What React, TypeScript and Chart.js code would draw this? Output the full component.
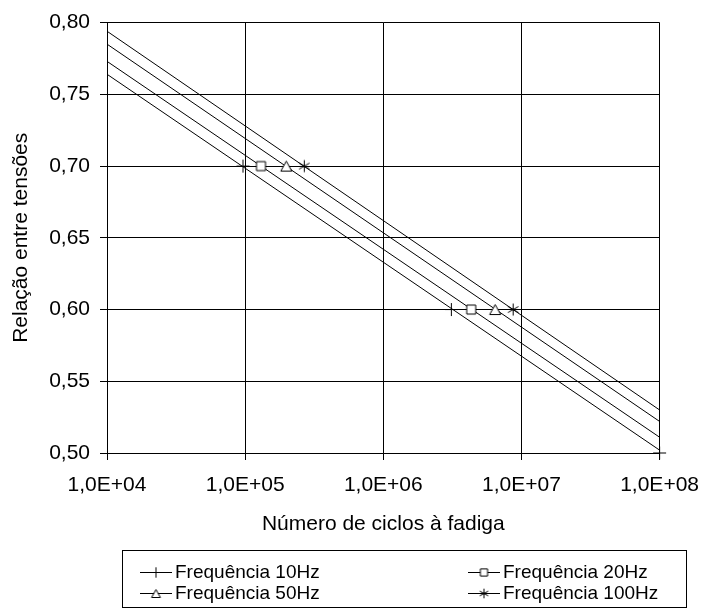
import React, { useEffect, useRef } from 'react';
import { Chart, registerables } from 'chart.js';

Chart.register(...registerables);

const seriesNames = ['Frequência 10Hz', 'Frequência 20Hz', 'Frequência 50Hz', 'Frequência 100Hz'];
const markerKinds = ['cross', 'square', 'triangle', 'asterisk'];

const cycles10Hz = [96400, 3110000, 100000000];
const ratio10Hz = [0.7, 0.6, 0.5];
const cycles20Hz = [130200, 4330000];
const ratio20Hz = [0.7, 0.6];
const cycles50Hz = [198600, 6450000];
const ratio50Hz = [0.7, 0.6];
const cycles100Hz = [268000, 8710000];
const ratio100Hz = [0.7, 0.6];

const trendCycles = [10000, 100000000];
const trendStart = [0.764, 0.773, 0.785, 0.794];
const trendEnd = [0.502, 0.511, 0.522, 0.53];

const xTickValues = [10000, 100000, 1000000, 10000000, 100000000];
const xTickLabels = ['1,0E+04', '1,0E+05', '1,0E+06', '1,0E+07', '1,0E+08'];
const yTickValues = [0.5, 0.55, 0.6, 0.65, 0.7, 0.75, 0.8];
const yTickLabels = ['0,50', '0,55', '0,60', '0,65', '0,70', '0,75', '0,80'];

const FONT = "'Liberation Sans', Arial, sans-serif";

function makeMarker(kind: string, scale = 1): HTMLCanvasElement {
  const size = 15;
  const c = document.createElement('canvas');
  c.width = size;
  c.height = size;
  const ctx = c.getContext('2d')!;
  const m = size / 2;
  ctx.strokeStyle = '#000';
  ctx.fillStyle = '#fff';
  ctx.lineWidth = 1;
  ctx.beginPath();
  if (kind === 'cross') {
    const r = 6.5 * scale;
    ctx.moveTo(m - r, m);
    ctx.lineTo(m + r, m);
    ctx.moveTo(m, m - r);
    ctx.lineTo(m, m + r);
    ctx.stroke();
  } else if (kind === 'square') {
    const h = 4.5 * scale;
    ctx.rect(m - h, m - h, 2 * h, 2 * h);
    ctx.fill();
    ctx.stroke();
  } else if (kind === 'triangle') {
    const w = 5.5 * scale;
    const hh = 5 * scale;
    ctx.moveTo(m, m - hh);
    ctx.lineTo(m + w, m + hh);
    ctx.lineTo(m - w, m + hh);
    ctx.closePath();
    ctx.fill();
    ctx.stroke();
  } else {
    const r = 6 * scale;
    const d = r * 0.87;
    ctx.moveTo(m, m - r);
    ctx.lineTo(m, m + r);
    ctx.moveTo(m - d, m - r * 0.5);
    ctx.lineTo(m + d, m + r * 0.5);
    ctx.moveTo(m - d, m + r * 0.5);
    ctx.lineTo(m + d, m - r * 0.5);
    ctx.stroke();
  }
  return c;
}

export default function App() {
  const canvasRef = useRef<HTMLCanvasElement | null>(null);

  useEffect(() => {
    const canvas = canvasRef.current;
    if (!canvas) return;
    const markers = markerKinds.map((k) => makeMarker(k, 1));
    const legendMarkers = markerKinds.map((k) => makeMarker(k, 0.8));

    const pointSets = [
      cycles10Hz.map((x, i) => ({ x, y: ratio10Hz[i] })),
      cycles20Hz.map((x, i) => ({ x, y: ratio20Hz[i] })),
      cycles50Hz.map((x, i) => ({ x, y: ratio50Hz[i] })),
      cycles100Hz.map((x, i) => ({ x, y: ratio100Hz[i] })),
    ];

    const markerDatasets = pointSets.map((data, i) => ({
      label: seriesNames[i],
      data,
      showLine: false,
      pointStyle: markers[i],
      pointRadius: 6,
      borderColor: '#000',
      backgroundColor: '#fff',
      clip: false,
    }));

    const trendDatasets = seriesNames.map((name, i) => ({
      label: name + ' (tendência)',
      data: [
        { x: trendCycles[0], y: trendStart[i] },
        { x: trendCycles[1], y: trendEnd[i] },
      ],
      borderColor: '#000',
      borderWidth: 1,
      pointRadius: 0,
      fill: false,
    }));

    const legendPlugin = {
      id: 'boxLegend',
      afterDraw(chart: any) {
        const ctx = chart.ctx as CanvasRenderingContext2D;
        ctx.save();
        ctx.strokeStyle = '#000';
        ctx.lineWidth = 1;
        ctx.strokeRect(122.5, 550.5, 564, 57);
        ctx.font = `19px ${FONT}`;
        ctx.fillStyle = '#000';
        ctx.textBaseline = 'middle';
        ctx.textAlign = 'left';
        seriesNames.forEach((name, i) => {
          const col = i % 2;
          const row = Math.floor(i / 2);
          const x0 = col ? 468 : 140;
          const y = row ? 593 : 572;
          ctx.beginPath();
          ctx.moveTo(x0, Math.round(y) + 0.5);
          ctx.lineTo(x0 + 32, Math.round(y) + 0.5);
          ctx.stroke();
          const mk = legendMarkers[i];
          ctx.drawImage(mk, x0 + 16 - mk.width / 2, Math.round(y) + 0.5 - mk.height / 2);
          ctx.fillText(name, x0 + 35, y + 1);
        });
        ctx.restore();
      },
    };

    const chart = new Chart(canvas, {
      type: 'line',
      data: { datasets: [...markerDatasets, ...trendDatasets] as any },
      options: {
        responsive: false,
        animation: false,
        events: [],
        layout: { padding: { left: 0, right: 44, top: 18, bottom: 78 } },
        plugins: {
          legend: { display: false },
          tooltip: { enabled: false },
        },
        scales: {
          x: {
            type: 'logarithmic',
            min: 10000,
            max: 100000000,
            afterBuildTicks: (s: any) => {
              s.ticks = xTickValues.map((v) => ({ value: v }));
            },
            afterFit: (s: any) => {
              s.height = 84;
            },
            ticks: {
              callback: (_v: any, i: number) => xTickLabels[i],
              font: { family: FONT, size: 21 },
              color: '#000',
              padding: 13,
              maxRotation: 0,
              autoSkip: false,
            },
            grid: { color: '#000', lineWidth: 1, tickLength: 7 },
            border: { color: '#000', width: 1 },
            title: {
              display: true,
              text: 'Número de ciclos à fadiga',
              font: { family: FONT, size: 21 },
              color: '#000',
              padding: { top: 0, bottom: 0 },
            },
          },
          y: {
            type: 'linear',
            min: 0.5,
            max: 0.8,
            afterBuildTicks: (s: any) => {
              s.ticks = yTickValues.map((v) => ({ value: v }));
            },
            afterFit: (s: any) => {
              s.width = 107;
            },
            ticks: {
              callback: (_v: any, i: number) => yTickLabels[i],
              font: { family: FONT, size: 21 },
              color: '#000',
              padding: 10,
            },
            grid: { color: '#000', lineWidth: 1, tickLength: 7 },
            border: { color: '#000', width: 1 },
            title: {
              display: true,
              text: 'Relação entre tensões',
              font: { family: FONT, size: 21 },
              color: '#000',
              padding: { top: 9, bottom: 0 },
            },
          },
        },
      } as any,
      plugins: [legendPlugin],
    });

    return () => {
      chart.destroy();
    };
  }, []);

  return (
    <div style={{ position: 'absolute', left: 0, top: 0, width: 712, height: 615, background: '#fff' }}>
      <canvas ref={canvasRef} width={712} height={615} style={{ display: 'block', width: 712, height: 615 }} />
    </div>
  );
}
